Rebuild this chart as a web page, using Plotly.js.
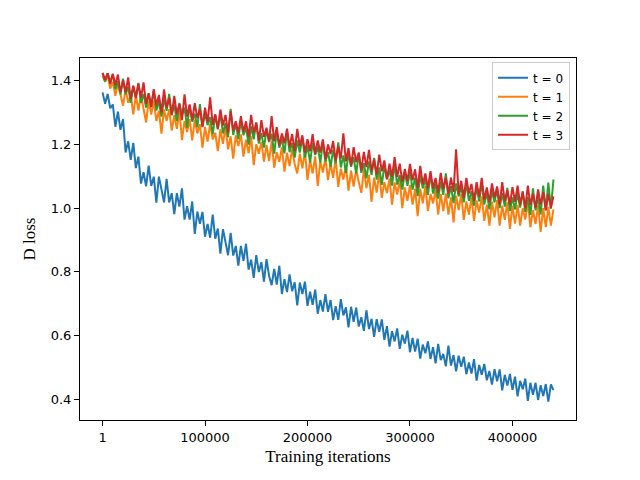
<!DOCTYPE html>
<html>
<head>
<meta charset="utf-8">
<script src="https://cdn.plot.ly/plotly-3.0.1.min.js"></script>
<style>html,body{margin:0;padding:0;background:#fff;}#chart{width:640px;height:480px;}</style>
</head>
<body>
<div id="chart"></div>
<script>
// Training iterations between logged samples
const STEP = 2500;

const seriesNames = ["t = 0", "t = 1", "t = 2", "t = 3"];
const seriesColors = ["#1f77b4", "#ff7f0e", "#2ca02c", "#d62728"];

const lossT0 = [
1.364,1.328,1.359,1.314,1.326,1.256,1.303,1.246,1.280,1.175,1.210,1.152,1.205,1.126,1.162,1.077,
1.113,1.069,1.134,1.070,1.099,1.017,1.099,1.060,1.018,1.092,1.018,1.047,0.981,1.047,1.005,1.062,
0.964,1.006,0.964,1.021,0.919,0.989,0.951,0.988,0.910,0.950,0.907,0.980,0.904,0.936,0.857,0.934,
0.886,0.852,0.922,0.851,0.881,0.819,0.881,0.834,0.888,0.807,0.838,0.781,0.852,0.799,0.830,0.769,
0.840,0.787,0.758,0.809,0.760,0.819,0.730,0.777,0.736,0.792,0.739,0.767,0.694,0.766,0.730,0.769,
0.693,0.737,0.696,0.744,0.668,0.711,0.675,0.730,0.674,0.711,0.648,0.692,0.649,0.714,0.663,0.688,
0.625,0.690,0.643,0.687,0.628,0.657,0.614,0.679,0.620,0.652,0.595,0.651,0.611,0.650,0.586,0.629,
0.565,0.613,0.581,0.622,0.558,0.602,0.574,0.615,0.547,0.592,0.549,0.590,0.527,0.571,0.544,0.581,
0.526,0.563,0.512,0.573,0.522,0.542,0.503,0.568,0.505,0.538,0.487,0.536,0.501,0.533,0.478,0.515,
0.480,0.525,0.458,0.507,0.476,0.510,0.459,0.488,0.445,0.494,0.456,0.493,0.427,0.476,0.442,0.479,
0.429,0.470,0.408,0.457,0.431,0.464,0.394,0.451,0.413,0.451,0.397,0.443,0.409,0.447,0.392,0.446,
0.428];

const lossT1 = [
1.415,1.397,1.418,1.376,1.397,1.353,1.393,1.358,1.322,1.376,1.331,1.355,1.295,1.355,1.307,1.355,
1.310,1.270,1.338,1.294,1.338,1.274,1.306,1.234,1.310,1.275,1.311,1.244,1.292,1.249,1.305,1.214,
1.274,1.239,1.280,1.213,1.278,1.235,1.264,1.190,1.255,1.209,1.266,1.216,1.237,1.179,1.248,1.202,
1.255,1.185,1.226,1.156,1.229,1.195,1.232,1.162,1.215,1.173,1.226,1.135,1.201,1.171,1.208,1.146,
1.199,1.148,1.210,1.127,1.176,1.146,1.191,1.115,1.174,1.132,1.185,1.139,1.109,1.171,1.125,1.179,
1.089,1.151,1.109,1.163,1.070,1.147,1.112,1.158,1.088,1.142,1.095,1.157,1.067,1.124,1.090,1.135,
1.055,1.118,1.068,1.121,1.083,1.048,1.122,1.063,1.105,1.020,1.096,1.049,1.111,1.032,1.082,1.047,
1.093,1.011,1.081,1.043,1.089,1.000,1.065,1.023,1.073,1.011,1.061,0.975,1.061,1.015,1.069,0.991,
1.045,1.015,1.057,0.980,1.045,0.991,1.046,0.980,1.034,0.955,1.039,0.994,1.044,0.963,1.021,0.980,
1.034,0.960,1.024,0.986,1.037,0.960,1.011,0.945,1.020,0.971,1.026,0.945,1.008,0.963,1.018,0.935,
1.008,0.951,1.010,0.945,1.000,0.964,1.019,0.940,0.994,0.950,1.009,0.925,1.000,0.940,1.004,0.945,
0.996];

const lossT2 = [
1.425,1.398,1.424,1.397,1.422,1.374,1.399,1.357,1.407,1.358,1.382,1.331,1.384,1.349,1.394,1.331,
1.359,1.316,1.361,1.322,1.370,1.307,1.336,1.288,1.345,1.306,1.359,1.292,1.325,1.274,1.331,1.292,
1.316,1.253,1.323,1.272,1.297,1.254,1.327,1.257,1.298,1.261,1.286,1.232,1.293,1.248,1.297,1.235,
1.268,1.223,1.312,1.230,1.267,1.217,1.275,1.229,1.254,1.200,1.257,1.216,1.269,1.203,1.236,1.190,
1.247,1.208,1.234,1.171,1.240,1.190,1.219,1.172,1.242,1.176,1.205,1.159,1.213,1.175,1.221,1.159,
1.197,1.143,1.205,1.167,1.193,1.143,1.208,1.146,1.176,1.130,1.183,1.141,1.207,1.128,1.166,1.111,
1.173,1.130,1.160,1.109,1.171,1.111,1.141,1.094,1.147,1.104,1.158,1.090,1.128,1.073,1.134,1.091,
1.121,1.071,1.140,1.074,1.104,1.058,1.112,1.070,1.116,1.058,1.096,1.038,1.104,1.062,1.092,1.042,
1.108,1.046,1.076,1.030,1.084,1.042,1.109,1.031,1.069,1.016,1.078,1.037,1.067,1.018,1.080,1.023,
1.053,1.008,1.067,1.021,1.080,1.011,1.050,0.996,1.055,1.018,1.061,1.000,1.047,1.005,1.064,0.991,
1.034,0.996,1.047,1.002,1.053,0.988,1.035,0.979,1.062,0.993,1.036,0.980,1.071,0.994,1.080,0.998,
1.090];

const lossT3 = [
1.425,1.404,1.424,1.390,1.422,1.387,1.420,1.364,1.402,1.364,1.411,1.344,1.385,1.346,1.391,1.347,
1.395,1.328,1.361,1.318,1.374,1.323,1.356,1.301,1.373,1.315,1.347,1.293,1.353,1.295,1.327,1.277,
1.358,1.288,1.326,1.276,1.330,1.283,1.312,1.255,1.316,1.270,1.348,1.262,1.295,1.249,1.310,1.260,
1.293,1.236,1.305,1.244,1.273,1.236,1.289,1.240,1.273,1.224,1.293,1.236,1.269,1.212,1.277,1.224,
1.253,1.210,1.289,1.210,1.255,1.197,1.235,1.204,1.250,1.192,1.233,1.179,1.249,1.195,1.229,1.175,
1.217,1.179,1.233,1.171,1.213,1.175,1.216,1.154,1.200,1.170,1.211,1.149,1.195,1.156,1.235,1.147,
1.189,1.134,1.192,1.145,1.175,1.119,1.177,1.129,1.183,1.116,1.153,1.106,1.168,1.116,1.150,1.091,
1.140,1.098,1.160,1.098,1.140,1.082,1.123,1.085,1.139,1.088,1.122,1.064,1.133,1.075,1.109,1.062,
1.116,1.062,1.095,1.049,1.111,1.061,1.096,1.046,1.096,1.051,1.185,1.044,1.086,1.033,1.095,1.046,
1.076,1.023,1.082,1.036,1.095,1.026,1.065,1.019,1.078,1.033,1.068,1.011,1.082,1.021,1.056,1.011,
1.066,1.020,1.071,1.010,1.052,1.000,1.071,1.010,1.045,1.001,1.059,1.011,1.050,0.993,1.045,1.001,
1.037];

const xTickVals = [1, 100000, 200000, 300000, 400000];
const xTickText = ["1", "100000", "200000", "300000", "400000"];
const yTickVals = [0.4, 0.6, 0.8, 1.0, 1.2, 1.4];
const yTickText = ["0.4", "0.6", "0.8", "1.0", "1.2", "1.4"];

const allSeries = [lossT0, lossT1, lossT2, lossT3];
const traces = allSeries.map((vals, i) => ({
  type: "scatter",
  mode: "lines",
  name: seriesNames[i],
  x: vals.map((_, k) => k === 0 ? 1 : k * STEP),
  y: vals,
  line: {color: seriesColors[i], width: 2}
}));

const tickFont = {family: "DejaVu Sans", size: 13, color: "#000"};
const titleFont = {family: "Liberation Serif", size: 17, color: "#000"};

const layout = {
  width: 640, height: 480,
  margin: {l: 80, r: 64, t: 58, b: 60, pad: 0},
  paper_bgcolor: "#fff", plot_bgcolor: "#fff",
  showlegend: true,
  legend: {
    x: 0.988, y: 0.988, xanchor: "right", yanchor: "top",
    bgcolor: "rgba(255,255,255,0.8)", bordercolor: "#cccccc", borderwidth: 1,
    font: {family: "DejaVu Sans", size: 12, color: "#000"},
    itemwidth: 30, tracegroupgap: 0
  },
  xaxis: {
    range: [-22000, 462000],
    tickvals: xTickVals, ticktext: xTickText,
    ticks: "outside", ticklen: 5, tickwidth: 1, tickcolor: "#000",
    showline: true, mirror: true, linecolor: "#000", linewidth: 1,
    showgrid: false, zeroline: false,
    tickfont: tickFont,
    title: {text: "Training iterations", font: titleFont, standoff: 6}
  },
  yaxis: {
    range: [0.334, 1.472],
    tickvals: yTickVals, ticktext: yTickText,
    ticks: "outside", ticklen: 5, tickwidth: 1, tickcolor: "#000",
    showline: true, mirror: true, linecolor: "#000", linewidth: 1,
    showgrid: false, zeroline: false,
    tickfont: tickFont,
    title: {text: "D loss", font: titleFont, standoff: 10}
  }
};

Plotly.newPlot("chart", traces, layout, {staticPlot: true, displayModeBar: false});
</script>
</body>
</html>
